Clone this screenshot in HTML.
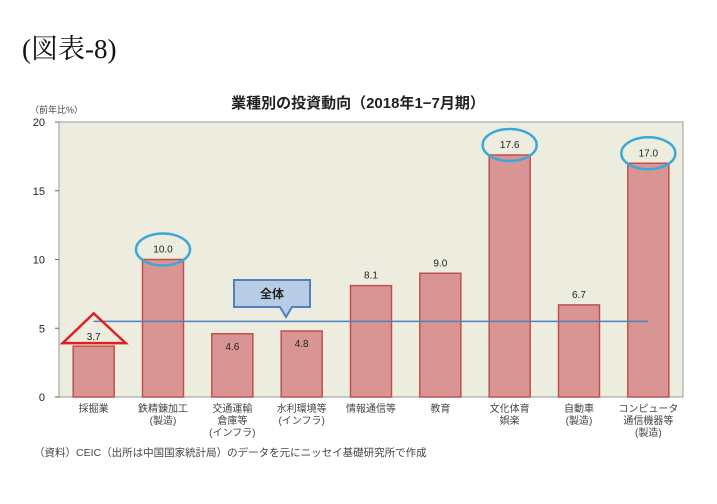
<!DOCTYPE html>
<html><head><meta charset="utf-8"><style>
body{margin:0;background:#fff;width:717px;height:499px;overflow:hidden;font-family:"Liberation Sans","Noto Sans CJK JP",sans-serif}
</style></head><body>
<svg width="717" height="499" xmlns="http://www.w3.org/2000/svg" font-family="Liberation Sans, Noto Sans CJK JP, sans-serif">
<text x="22" y="58" font-size="27" font-family="Liberation Serif, Noto Serif CJK SC, serif" fill="#111">(図表-8)</text>
<text x="358" y="108" font-size="15" font-weight="bold" text-anchor="middle" fill="#222">業種別の投資動向（2018年1−7月期）</text>
<text x="30" y="113" font-size="9" fill="#444">（前年比%）</text>
<rect x="59" y="122" width="624" height="275" fill="#ecedde" stroke="#999" stroke-width="1"/>
<g id="chart"></g>
<text x="34" y="456" font-size="10.5" fill="#444">（資料）CEIC（出所は中国国家統計局）のデータを元にニッセイ基礎研究所で作成</text>
</svg>
<script>
const categories=[["採掘業"],["鉄精錬加工","(製造)"],["交通運輸","倉庫等","(インフラ)"],["水利環境等","(インフラ)"],["情報通信等"],["教育"],["文化体育","娯楽"],["自動車","(製造)"],["コンピュータ","通信機器等","(製造)"]];
const values=[3.7,10.0,4.6,4.8,8.1,9.0,17.6,6.7,17.0];
const labels=["3.7","10.0","4.6","4.8","8.1","9.0","17.6","6.7","17.0"];
const yTicks=[0,5,10,15,20];
const overall=5.5;
const highlighted=[1,6,8];
const NS="http://www.w3.org/2000/svg";
const g=document.getElementById('chart');
const X0=59,W=624,Y0=397,H=275,band=W/categories.length,bw=41;
const y=v=>Y0-v/20*H;
const xc=i=>X0+band*(i+0.5);
function mk(t,a){const e=document.createElementNS(NS,t);for(const k in a)e.setAttribute(k,a[k]);g.appendChild(e);return e;}
yTicks.forEach(t=>{
 const l=mk('line',{x1:X0-4,x2:X0,y1:y(t),y2:y(t),stroke:'#666'});
 
 
 const tx=mk('text',{x:X0-14,y:y(t)+4,'font-size':11,'text-anchor':'end',fill:'#222'});
 tx.textContent=t;
 
 
});
values.forEach((v,i)=>{
 const r=mk('rect',{x:xc(i)-bw/2,y:y(v),width:bw,height:Y0-y(v),fill:'#d99594',stroke:'#c0504d','stroke-width':1.5});
 
 
 const inside=(i===2||i===3);
 const ly=inside?y(v)+16:(i===0?y(v)-6:y(v)-7);
 const t=mk('text',{x:xc(i),y:ly,'font-size':10,'text-anchor':'middle',fill:'#222'});
 t.textContent=labels[i];
 
 
 categories[i].forEach((s,j)=>{
  const c=mk('text',{x:xc(i),y:412+j*12,'font-size':10,'text-anchor':'middle',fill:'#444'});
  c.textContent=s;
  
  
 });
});
highlighted.forEach(i=>{
 const e=mk('ellipse',{cx:xc(i),cy:y(values[i])-10,rx:27,ry:16,fill:'none',stroke:'#3aa8d8','stroke-width':2.5});
 
 
});
const ol=mk('line',{x1:xc(0),x2:xc(8),y1:y(overall),y2:y(overall),stroke:'#4f81bd','stroke-width':1.5});


const tri=mk('polygon',{points:`${xc(0)},${y(overall)-8} ${xc(0)-31},${y(3.7)-3} ${xc(0)+32},${y(3.7)-3}`,fill:'none',stroke:'#e02020','stroke-width':2.5});


const cp=mk('path',{d:'M234,280 H310 V307 H292 L286,317 L280,307 H234 Z',fill:'#b8cce4',stroke:'#4f81bd','stroke-width':2});


const ct=mk('text',{x:272,y:298,'font-size':12,'font-weight':'bold','text-anchor':'middle',fill:'#222'});
ct.textContent='全体';


</script>
</body></html>
